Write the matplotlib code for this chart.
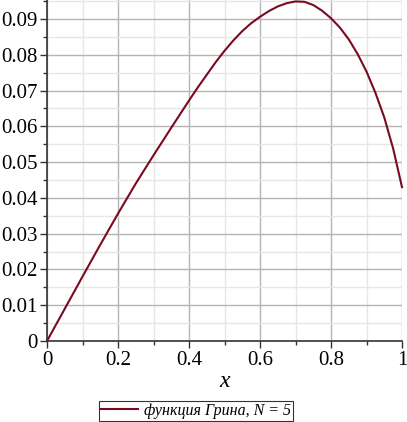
import numpy as np
import matplotlib
matplotlib.use("Agg")
import matplotlib.pyplot as plt
from matplotlib.ticker import MultipleLocator, FuncFormatter

plt.rcParams['font.family'] = 'serif'
plt.rcParams['font.serif'] = ['Liberation Serif', 'Times New Roman', 'DejaVu Serif']

# значения функции Грина
x_vals = [0.0, 0.05, 0.10, 0.15, 0.20, 0.25, 0.30, 0.35, 0.40, 0.425, 0.45,
          0.475, 0.50, 0.525, 0.55, 0.575, 0.60, 0.625, 0.65, 0.675, 0.70,
          0.725, 0.75, 0.775, 0.80, 0.825, 0.85, 0.875, 0.90, 0.925, 0.95,
          0.975, 1.0]
g_vals = [0.0, 0.0090, 0.0180, 0.0269, 0.0356, 0.0440, 0.0519, 0.0596, 0.0672,
          0.0709, 0.0744, 0.0779, 0.0811, 0.0840, 0.0866, 0.0888, 0.0906,
          0.0922, 0.0935, 0.0944, 0.0949, 0.0948, 0.0939, 0.0923, 0.0902,
          0.0876, 0.0843, 0.0802, 0.0753, 0.0694, 0.0625, 0.0538, 0.0430]
legend_label = "функция Грина, N = 5"

W, H = 407, 422
fig = plt.figure(figsize=(W / 100, H / 100), dpi=100)
ax = fig.add_axes([47 / W, 81 / H, 355 / W, 341 / H])

ax.plot(x_vals, g_vals, color='#7a0a1e', lw=1.5, label=legend_label, clip_on=False)

ax.set_xlim(0, 1)
ax.set_ylim(0, 0.0953)
ax.xaxis.set_major_locator(MultipleLocator(0.2))
ax.xaxis.set_minor_locator(MultipleLocator(0.1))
ax.yaxis.set_major_locator(MultipleLocator(0.01))
ax.yaxis.set_minor_locator(MultipleLocator(0.005))

fmt = FuncFormatter(lambda v, p: "0" if abs(v) < 1e-12 else ("1" if abs(v - 1) < 1e-12 else f"{v:g}"))
ax.xaxis.set_major_formatter(fmt)
ax.yaxis.set_major_formatter(fmt)

ax.grid(which='major', color='#b4b4b4', lw=1.0)
ax.grid(which='minor', color='#e6e6e6', lw=1.0)
ax.set_axisbelow(True)

for s in ['top', 'right']:
    ax.spines[s].set_visible(False)
for s in ['left', 'bottom']:
    ax.spines[s].set_color('#333333')
    ax.spines[s].set_linewidth(1.2)

ax.tick_params(which='major', direction='out', length=5, width=1, colors='#333333',
               labelsize=15, labelcolor='black', pad=2)
ax.tick_params(which='minor', direction='out', length=3, width=1, colors='#333333')

ax.set_xlabel("x", fontsize=17, style='italic', labelpad=1)

leg = fig.legend(loc='center', bbox_to_anchor=(196 / W, 11 / H), frameon=True,
                 fancybox=False, handlelength=2.3, handletextpad=0.4,
                 borderpad=0.15, borderaxespad=0.0,
                 prop={'style': 'italic', 'size': 11.5})
leg.get_frame().set_edgecolor('black')
leg.get_frame().set_linewidth(0.8)

fig.savefig("out.png", dpi=100)
